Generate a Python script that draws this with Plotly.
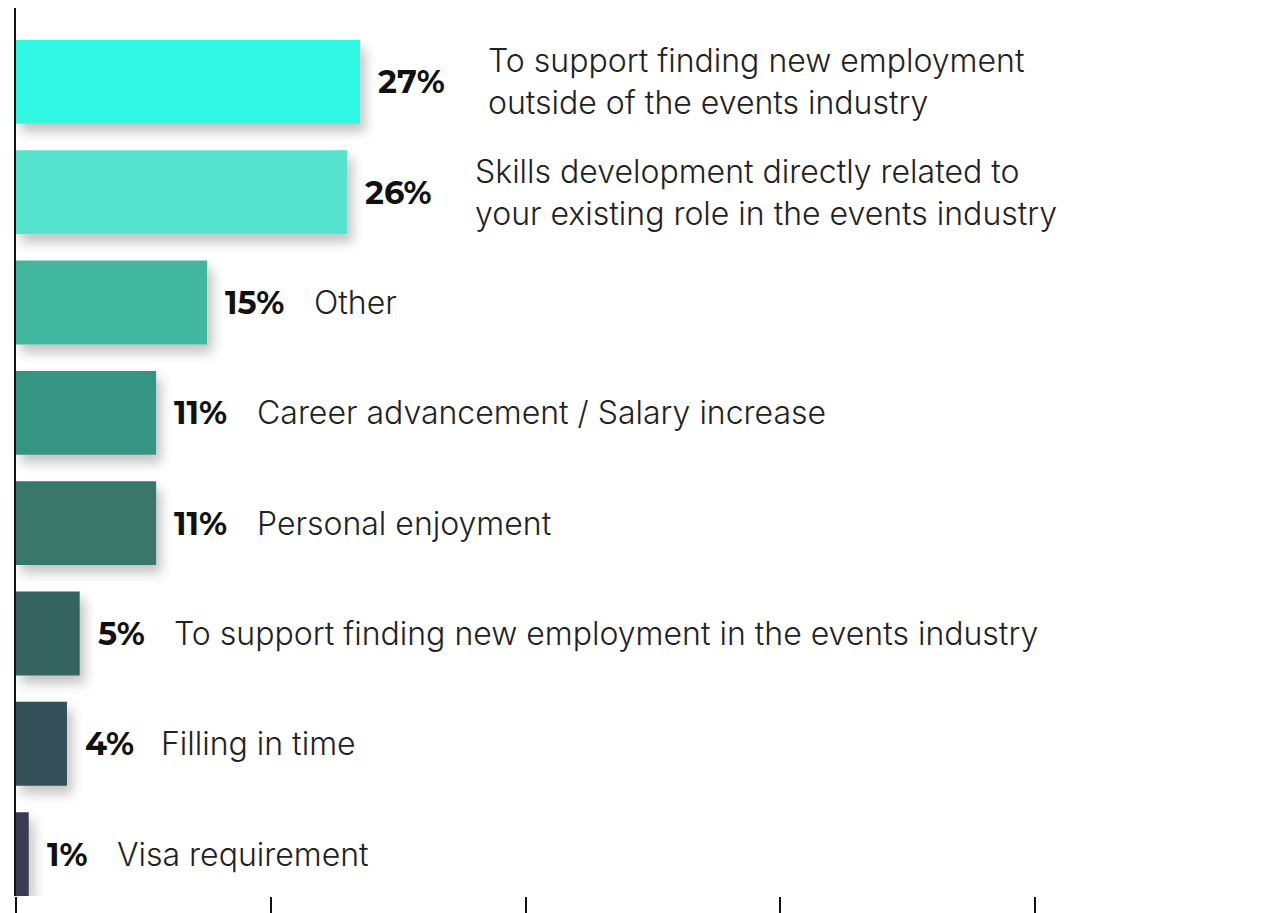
import plotly.graph_objects as go

# Reasons for undertaking training, share of respondents (%)
reasons = [
    "To support finding new employment<br>outside of the events industry",
    "Skills development directly related to<br>your existing role in the events industry",
    "Other",
    "Career advancement / Salary increase",
    "Personal enjoyment",
    "To support finding new employment in the events industry",
    "Filling in time",
    "Visa requirement",
]
shares = [27, 26, 15, 11, 11, 5, 4, 1]
bar_colors = ["#30F9E3", "#55E3CE", "#42B7A0", "#369482", "#38776B", "#356461", "#345058", "#373D52"]
x_ticks = [0, 20, 40, 60, 80]

PCT_FONT = dict(family="Montserrat, Inter, Lato, sans-serif", size=32, color="#111111", weight=800)
LABEL_FONT = dict(family="Inter, Liberation Sans, sans-serif", size=32, color="#222222", weight=300)

# approximate advance widths (px) of the bold percentage glyphs, used to place the text after them
GLYPH_W = {"1": 13, "%": 27}
DEFAULT_DIGIT_W = 19


def pct_width(s):
    return sum(GLYPH_W.get(ch, DEFAULT_DIGIT_W) for ch in s)


rows = list(range(len(reasons)))

fig = go.Figure(
    go.Bar(
        x=shares,
        y=rows,
        orientation="h",
        marker=dict(color=bar_colors, line=dict(width=0)),
        hoverinfo="skip",
    )
)

annotations = []
for r, (label, v) in enumerate(zip(reasons, shares)):
    pct = f"{v}%"
    gap = 45 if "<br>" in label else 30
    annotations.append(dict(
        x=v, y=r, xref="x", yref="y", text=f"<b>{pct}</b>", showarrow=False,
        xanchor="left", yanchor="middle", xshift=16, font=PCT_FONT,
    ))
    annotations.append(dict(
        x=v, y=r, xref="x", yref="y", text=label, showarrow=False,
        xanchor="left", yanchor="middle", align="left",
        xshift=16 + pct_width(pct) + gap, font=LABEL_FONT,
    ))

fig.update_layout(
    width=1285,
    height=913,
    margin=dict(l=16, r=0, t=8, b=17),
    paper_bgcolor="white",
    plot_bgcolor="white",
    bargap=0.24,
    showlegend=False,
    annotations=annotations,
    xaxis=dict(
        range=[0, 99.6], tickvals=x_ticks, showticklabels=False,
        ticks="outside", ticklen=22, tickwidth=2, tickcolor="#111111",
        showgrid=False, zeroline=False, showline=False, automargin=False,
        fixedrange=True,
    ),
    yaxis=dict(
        range=[7.38, -0.67], showticklabels=False, ticks="",
        showgrid=False, zeroline=False, showline=True, linecolor="#111111",
        linewidth=2, automargin=False, fixedrange=True,
    ),
)

shadow_js = """
var gd = document.getElementById('{plot_id}');
var svg = gd.querySelector('svg.main-svg');
var ns = 'http://www.w3.org/2000/svg';
var defs = svg.querySelector('defs');
var f = document.createElementNS(ns, 'filter');
f.setAttribute('id', 'barshadow');
f.setAttribute('filterUnits', 'userSpaceOnUse');
f.setAttribute('x', '-200'); f.setAttribute('y', '-200');
f.setAttribute('width', '3000'); f.setAttribute('height', '3000');
var ds = document.createElementNS(ns, 'feDropShadow');
ds.setAttribute('dx', '5'); ds.setAttribute('dy', '8');
ds.setAttribute('stdDeviation', '6');
ds.setAttribute('flood-color', '#000000');
ds.setAttribute('flood-opacity', '0.24');
f.appendChild(ds);
defs.appendChild(f);
gd.querySelectorAll('.barlayer .point path').forEach(function (p) {
  p.setAttribute('filter', 'url(#barshadow)');
});
"""

fig.write_html("out.html", post_script=shadow_js, config={"displayModeBar": False})
